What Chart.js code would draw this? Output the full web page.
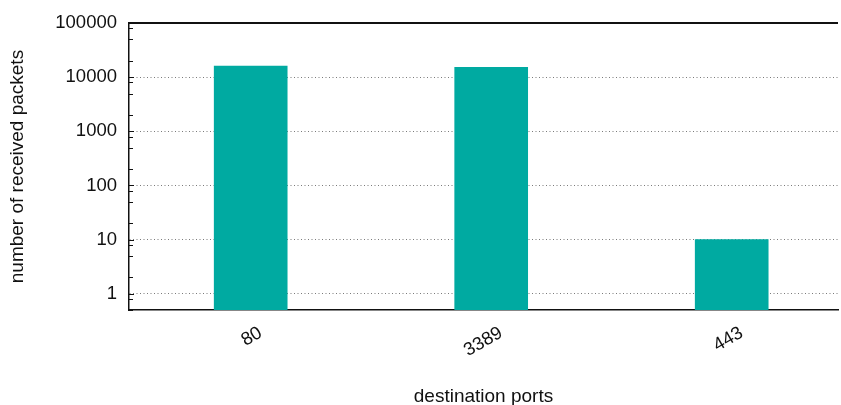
<!DOCTYPE html>
<html>
<head>
<meta charset="utf-8">
<title>Received packets per destination port</title>
<script src="https://cdn.jsdelivr.net/npm/chart.js@4.4.1/dist/chart.umd.min.js"></script>
<style>
  html, body { margin: 0; padding: 0; background: #fff; }
  #wrap { width: 841px; height: 405px; }
</style>
</head>
<body>
<div id="wrap"><canvas id="portChart" width="841" height="405"></canvas></div>
<script>
// ------------------------------------------------------------
// Packets received per destination port (log scale)
// ------------------------------------------------------------
const ports = ['80', '3389', '443'];
const packets = [16000, 15300, 10];
const yTicks = [1, 10, 100, 1000, 10000, 100000];
const yMinorFactors = [2, 5, 8];

const FONT = 'Liberation Sans, Arial, Helvetica, sans-serif';
const BAR_COLOR = '#00aaa1';

/**
 * Frame on top plus small inward tick marks on the y axis
 */
const frameAndTicksPlugin = {
  id: 'frameAndTicks',
  afterDraw: (chart) => {
    const { ctx, chartArea, scales } = chart;
    const y = scales.y;
    ctx.save();
    ctx.strokeStyle = '#111';

    // solid top border
    ctx.lineWidth = 2;
    ctx.beginPath();
    ctx.moveTo(chartArea.left, chartArea.top);
    ctx.lineTo(chartArea.right, chartArea.top);
    ctx.stroke();

    // major + minor ticks pointing into the plot
    ctx.lineWidth = 1;
    ctx.beginPath();
    yTicks.forEach(v => {
      const py = Math.round(y.getPixelForValue(v)) + 0.5;
      ctx.moveTo(chartArea.left, py);
      ctx.lineTo(chartArea.left + 5, py);
      yMinorFactors.forEach(f => {
        const mv = v * f;
        if (mv > y.max) return;
        const my = Math.round(y.getPixelForValue(mv)) + 0.5;
        ctx.moveTo(chartArea.left, my);
        ctx.lineTo(chartArea.left + 4, my);
      });
    });
    // minor ticks below the first decade
    yMinorFactors.forEach(f => {
      const mv = 0.1 * f;
      if (mv < y.min) return;
      const my = Math.round(y.getPixelForValue(mv)) + 0.5;
      ctx.moveTo(chartArea.left, my);
      ctx.lineTo(chartArea.left + 4, my);
    });
    ctx.stroke();
    ctx.restore();
  }
};

new Chart(document.getElementById('portChart'), {
  type: 'bar',
  plugins: [frameAndTicksPlugin],
  data: {
    datasets: [{
      data: ports.map((p, i) => ({ x: i, y: packets[i] })),
      backgroundColor: BAR_COLOR,
      borderWidth: 0,
      barThickness: 73
    }]
  },
  options: {
    responsive: false,
    animation: false,
    layout: { padding: { top: 22, right: 3, left: 0, bottom: 0 } },
    plugins: {
      legend: { display: false },
      tooltip: { enabled: false }
    },
    scales: {
      x: {
        type: 'linear',
        offset: false,
        min: -0.506,
        max: 2.442,
        afterBuildTicks: (scale) => { scale.ticks = ports.map((p, i) => ({ value: i })); },
        afterFit: (scale) => { scale.height = 95; },
        grid: { display: false },
        border: { display: true, color: '#111', width: 1.5 },
        ticks: {
          minRotation: 30,
          maxRotation: 30,
          labelOffset: 10,
          padding: 4,
          color: '#111',
          font: { family: FONT, size: 18.5 },
          callback: (v) => ports[v]
        },
        title: {
          display: true,
          text: 'destination ports',
          color: '#111',
          font: { family: FONT, size: 19 },
          padding: { top: 0, bottom: -3 }
        }
      },
      y: {
        type: 'logarithmic',
        min: 0.5,
        max: 100000,
        afterBuildTicks: (scale) => { scale.ticks = yTicks.map(v => ({ value: v, major: true })); },
        afterFit: (scale) => { scale.width = 129; },
        grid: { color: '#7a7a7a', lineWidth: 1, drawTicks: false },
        border: { display: true, color: '#111', width: 1.5, dash: [1, 2.5] },
        ticks: {
          padding: 12,
          color: '#111',
          font: { family: FONT, size: 18.5 },
          callback: (v) => String(v)
        },
        title: {
          display: true,
          text: 'number of received packets',
          color: '#111',
          font: { family: FONT, size: 19 },
          padding: { top: 6, bottom: 0 }
        }
      }
    }
  }
});
</script>
</body>
</html>
